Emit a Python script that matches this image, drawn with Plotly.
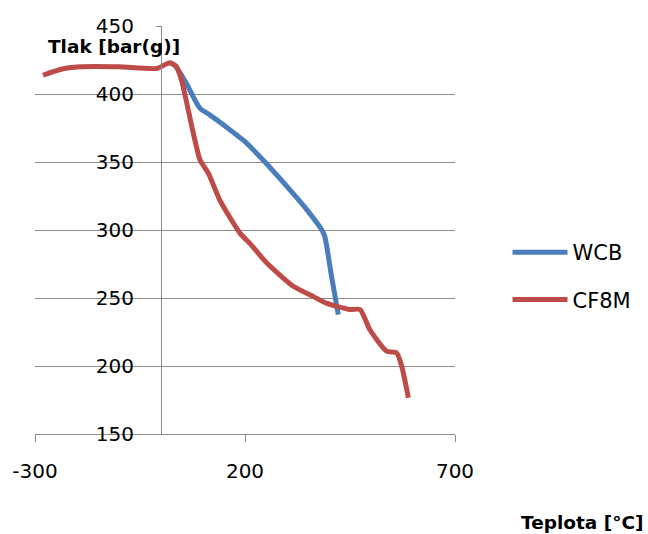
import plotly.graph_objects as go

# Data
wcb_temp = [21, 33, 60, 93, 117, 150, 196, 243, 307, 347, 383, 390, 406, 422]
wcb_press = [423, 421, 408, 389.4, 384.5, 377, 366, 351.5, 329.5, 315, 300, 295.2, 266, 237.8]

cf8m_temp = [-281, -240, -193, -100, -10, 21, 37, 49, 77, 93, 113, 140, 188, 212, 252,
             315, 363, 395, 450, 474, 497, 537, 561, 573, 589]
cf8m_press = [413.8, 418, 420, 420, 418.8, 423, 420, 410, 371, 351.5, 341.7, 322, 297.7, 290,
              275.7, 258.6, 251, 246, 241.5, 241.5, 226.8, 211, 209.7, 200, 176.7]

x_ticks = [-300, 200, 700]
x_tick_text = ["-300", "200", "700"]
y_ticks = [150, 200, 250, 300, 350, 400, 450]

FONT = "DejaVu Sans"
GRID = "#8c8c8c"

fig = go.Figure()
fig.add_trace(go.Scatter(x=wcb_temp, y=wcb_press, name="WCB", mode="lines",
                         line=dict(color="#4A7EBB", width=5, shape="spline", smoothing=0.6),
                         legendgroup="a"))
fig.add_trace(go.Scatter(x=cf8m_temp, y=cf8m_press, name="CF8M", mode="lines",
                         line=dict(color="#BE4B48", width=5, shape="spline", smoothing=0.6),
                         legendgroup="b"))

fig.update_layout(
    width=648, height=534,
    margin=dict(l=35, r=193, t=26, b=100),
    paper_bgcolor="white", plot_bgcolor="white",
    font=dict(family=FONT, size=20, color="black"),
    showlegend=True,
    legend=dict(x=1.125, xanchor="left", y=0.495, yanchor="top",
                font=dict(family=FONT, size=21), tracegroupgap=17, itemwidth=55,
                bgcolor="rgba(0,0,0,0)"),
    xaxis=dict(range=[-300, 700], tickvals=x_ticks, ticktext=x_tick_text,
               showgrid=False, zeroline=False,
               showline=True, linecolor=GRID, linewidth=1,
               ticks="outside", ticklen=7, tickcolor=GRID, ticklabelstandoff=12,
               tickfont=dict(family=FONT, size=20)),
    yaxis=dict(range=[150, 450], tickvals=y_ticks, showgrid=True, gridcolor=GRID, gridwidth=1,
               zeroline=False, showline=True, linecolor=GRID, linewidth=1,
               anchor="free", position=0.3,
               ticks="outside", ticklen=5, tickcolor=GRID, ticklabelstandoff=18,
               tickfont=dict(family=FONT, size=20)),
    annotations=[
        dict(text="<b>Tlak [bar(g)]</b>", xref="paper", yref="paper", x=(46-35)/420, y=(433.7-46)/408,
             xanchor="left", yanchor="middle", showarrow=False, font=dict(family=FONT, size=18.5)),
        dict(text="<b>Teplota [°C]</b>", xref="paper", yref="paper", x=(646-35)/420, y=(433.7-522)/408,
             xanchor="right", yanchor="middle", showarrow=False, font=dict(family=FONT, size=18.5)),
    ],
)

fig.write_html("out.html")
